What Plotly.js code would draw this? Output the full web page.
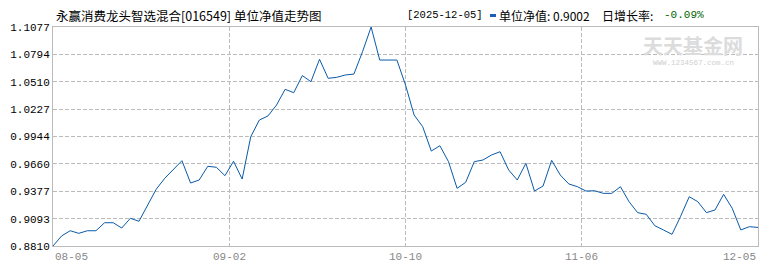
<!DOCTYPE html>
<html>
<head>
<meta charset="utf-8">
<script src="https://cdn.plot.ly/plotly-3.0.1.min.js"></script>
<style>html,body{margin:0;padding:0;background:#fff;}#chart{width:770px;height:270px;}</style>
</head>
<body>
<div id="chart"></div>
<script>
// ---- data ----
const fundTitle = '永赢消费龙头智选混合[016549] 单位净值走势图';
const latestDate = '[2025-12-05]';
const latestNavText = '单位净值: 0.9002';
const dailyLabel = '日增长率: ';
const dailyChange = '-0.09%';
const xTickLabels = ['08-05', '09-02', '10-10', '11-06', '12-05'];
const yTickLabels = ['0.8810', '0.9093', '0.9377', '0.9660', '0.9944', '1.0227', '1.0510', '1.0794', '1.1077'];
const nav = [
  0.8810, 0.8914, 0.8968, 0.8941, 0.8968, 0.8968, 0.9051, 0.9051, 0.8996, 0.9097,
  0.9066, 0.9224, 0.9397, 0.9511, 0.9599, 0.9693, 0.9462, 0.9493, 0.9635, 0.9625,
  0.9538, 0.9687, 0.9503, 0.9941, 1.0114, 1.0156, 1.0269, 1.0432, 1.0397, 1.0574,
  1.0511, 1.0743, 1.0546, 1.0556, 1.0580, 1.0590, 1.0821, 1.1077, 1.0735, 1.0735,
  1.0735, 1.0477, 1.0166, 1.0045, 0.9793, 0.9848, 0.9683, 0.9407, 0.9469, 0.9683,
  0.9700, 0.9752, 0.9786, 0.9597, 0.9493, 0.9666, 0.9379, 0.9431, 0.9697, 0.9545,
  0.9452, 0.9424, 0.9379, 0.9382, 0.9355, 0.9355, 0.9424, 0.9269, 0.9155, 0.9138,
  0.9020, 0.8976, 0.8931, 0.9117, 0.9320, 0.9269, 0.9155, 0.9183, 0.9345, 0.9200,
  0.8976, 0.9010, 0.9002
];

// ---- build ----
const idx = nav.map((_, i) => i);
const last = nav.length - 1;
const xTickVals = xTickLabels.map((_, k) => k * last / (xTickLabels.length - 1));
const yTickVals = yTickLabels.map(Number);
const yMin = yTickVals[0], yMax = yTickVals[yTickVals.length - 1];

const L = 53, R = 758, T = 27, B = 246;
const px = x => (x - L) / (R - L);
const py = y => (B - y) / (B - T);

const cjk = '"Noto Sans CJK SC", "Noto Sans", sans-serif';
const mono = '"Liberation Mono", "DejaVu Sans Mono", monospace';

const annotations = [];
xTickLabels.forEach((lab, k) => {
  annotations.push({
    text: lab, xref: 'x', yref: 'paper', x: xTickVals[k], y: py(257),
    xanchor: k === 0 ? 'left' : (k === xTickLabels.length - 1 ? 'right' : 'center'),
    yanchor: 'middle', showarrow: false,
    font: {family: mono, size: 11, color: '#888'}
  });
});
const hdrY = py(15);
annotations.push({text: fundTitle, xref: 'paper', yref: 'paper', x: px(54), y: hdrY, xanchor: 'left', yanchor: 'middle', showarrow: false, font: {family: cjk, size: 12.5, color: '#000'}});
annotations.push({text: latestDate, xref: 'paper', yref: 'paper', x: px(405), y: hdrY, xanchor: 'left', yanchor: 'middle', showarrow: false, font: {family: mono, size: 10.5, color: '#000'}});
annotations.push({text: latestNavText, xref: 'paper', yref: 'paper', x: px(497), y: hdrY, xanchor: 'left', yanchor: 'middle', showarrow: false, font: {family: cjk, size: 12, color: '#000'}});
annotations.push({text: dailyLabel, xref: 'paper', yref: 'paper', x: px(600), y: hdrY, xanchor: 'left', yanchor: 'middle', showarrow: false, font: {family: cjk, size: 12, color: '#000'}});
annotations.push({text: dailyChange, xref: 'paper', yref: 'paper', x: px(662), y: hdrY, xanchor: 'left', yanchor: 'middle', showarrow: false, font: {family: mono, size: 11, color: '#006600'}});
// watermark
annotations.push({text: '<b>天天基金网</b>', xref: 'paper', yref: 'paper', x: px(693), y: py(45), xanchor: 'center', yanchor: 'middle', showarrow: false, font: {family: cjk, size: 20, color: '#dcdcdc'}});
annotations.push({text: 'WWW.1234567.com.cn', xref: 'paper', yref: 'paper', x: px(693), y: py(63), xanchor: 'center', yanchor: 'middle', showarrow: false, font: {family: mono, size: 7.5, color: '#cfcfcf'}});

const shapes = [
  {type: 'rect', xref: 'paper', yref: 'paper', x0: px(490), x1: px(496), y0: py(17), y1: py(14), fillcolor: '#1a5fb4', line: {width: 0}}
];

const trace = {
  x: idx, y: nav, type: 'scatter', mode: 'lines',
  line: {color: '#0a5aa8', width: 1}, hoverinfo: 'skip'
};

const layout = {
  width: 770, height: 270,
  margin: {l: L, r: 770 - R, t: T, b: 270 - B, pad: 0},
  paper_bgcolor: '#fff', plot_bgcolor: '#fff',
  showlegend: false,
  xaxis: {
    range: [0, last], tickmode: 'array', tickvals: xTickVals, showticklabels: false,
    showgrid: true, gridcolor: '#bbb', griddash: '4px,2px', gridwidth: 1,
    showline: true, linecolor: '#bbb', linewidth: 1, mirror: true, zeroline: false, ticks: ''
  },
  yaxis: {
    range: [yMin, yMax], tickmode: 'array', tickvals: yTickVals, ticktext: yTickLabels,
    showgrid: true, gridcolor: '#bbb', griddash: '4px,2px', gridwidth: 1,
    showline: true, linecolor: '#bbb', linewidth: 1, mirror: true, zeroline: false, ticks: '',
    tickfont: {family: mono, size: 11, color: '#000'}
  },
  annotations: annotations,
  shapes: shapes
};

Plotly.newPlot('chart', [trace], layout, {staticPlot: true, displayModeBar: false});
</script>
</body>
</html>
